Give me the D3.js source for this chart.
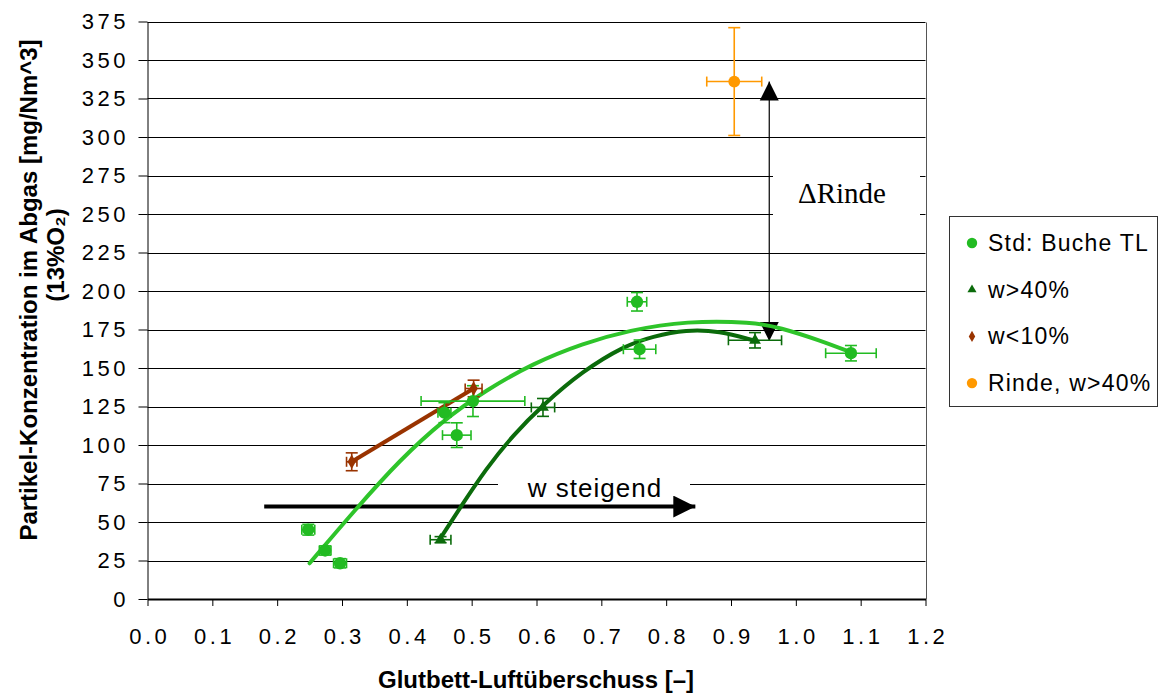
<!DOCTYPE html>
<html>
<head>
<meta charset="utf-8">
<script src="https://cdn.jsdelivr.net/npm/d3@7"></script>
<style>
  html, body { margin: 0; padding: 0; background: #fff; }
  svg { display: block; font-family: "Liberation Sans", Arial, sans-serif; }
</style>
</head>
<body>
<svg id="chart" width="1160" height="693"></svg>
<script>
// Measured series: x = Glutbett-Luftüberschuss, y = Partikel-Konzentration
const stdX   = [0.248, 0.274, 0.297, 0.458, 0.477, 0.502, 0.755, 0.759, 1.085];
const stdY   = [45, 31.5, 23.2, 121, 106.4, 128.5, 193, 162.2, 159.6];
const stdXe  = [0.010, 0.009, 0.010, 0.010, 0.022, 0.080, 0.015, 0.025, 0.039];
const stdYe  = [3.5, 3, 3, 6.5, 8, 10, 6, 6, 5];

const wetX   = [0.452, 0.610, 0.937];
const wetY   = [38.5, 124.4, 168];
const wetXe  = [0.016, 0.018, 0.041];
const wetYe  = [2, 5.8, 5];

const dryX   = [0.315, 0.503];
const dryY   = [89.1, 136.7];
const dryXe  = [0.008, 0.013];
const dryYe  = [5.8, 5.4];

const barkX  = [0.905];
const barkY  = [336];
const barkXe = [0.0424];
const barkYe = [35];

// Trend curves as drawn on the chart
const stdTrendX = [0.250, 0.322, 0.389, 0.456, 0.522, 0.594, 0.671, 0.743, 0.831, 0.934, 0.975, 1.037, 1.083];
const stdTrendY = [23.2, 58.8, 90.2, 116.1, 135.6, 152.9, 165.9, 174.5, 180.6, 179.9, 176.3, 168, 160.5];
const wetTrendX = [0.450, 0.481, 0.522, 0.564, 0.610, 0.671, 0.736, 0.779, 0.831, 0.882, 0.934];
const wetTrendY = [38.3, 58.5, 84.5, 106.5, 126, 148, 164.5, 170.5, 175, 174.1, 168];

// Axis ticks
const yTicks = d3.range(0, 376, 25);
const xTicks = d3.range(0, 13).map(i => i / 10);

// Legend entries
const legendNames = ["Std: Buche TL", "w>40%", "w<10%", "Rinde, w>40%"];

const colStd = "#22bb22", colStdLine = "#2ec42a", colWet = "#0b6b0b", colDry = "#993300", colBark = "#ff9900";

const svg = d3.select("#chart");
const x = d3.scaleLinear().domain([0, 1.2]).range([147.5, 925.5]);
const y = d3.scaleLinear().domain([0, 375]).range([599, 21.5]);

// Horizontal gridlines and right frame
svg.append("g").selectAll("line").data(yTicks.filter(v => v > 0)).join("line")
  .attr("x1", x(0)).attr("x2", x(1.2))
  .attr("y1", d => Math.round(y(d)) + 0.5).attr("y2", d => Math.round(y(d)) + 0.5)
  .attr("stroke", "#000").attr("stroke-width", 1);
svg.append("line")
  .attr("x1", Math.round(x(1.2)) + 0.5).attr("x2", Math.round(x(1.2)) + 0.5)
  .attr("y1", Math.round(y(375)) + 0.5).attr("y2", y(0))
  .attr("stroke", "#555").attr("stroke-width", 1);

// Axes
const yAxis = svg.append("g").attr("transform", `translate(${x(0)},0)`)
  .call(d3.axisLeft(y).tickValues(yTicks).tickSize(9).tickPadding(9.5).tickSizeOuter(0));
const xAxis = svg.append("g").attr("transform", `translate(0,${y(0)})`)
  .call(d3.axisBottom(x).tickValues(xTicks).tickFormat(d3.format(".1f")).tickSize(7).tickPadding(22).tickSizeOuter(0));
[yAxis, xAxis].forEach(g => {
  g.selectAll("text").attr("font-size", 22).attr("font-family", "Liberation Sans, Arial, sans-serif")
    .attr("fill", "#000").attr("letter-spacing", 3.5);
  g.selectAll("line").attr("stroke", "#000");
  g.select(".domain").attr("stroke", "#000");
});
xAxis.selectAll("text").attr("dx", 1.75);
xAxis.select(".domain").attr("stroke-width", 2);

// Axis titles
svg.append("text").attr("x", 536).attr("y", 688).attr("text-anchor", "middle")
  .attr("font-size", 24).attr("font-weight", "bold").text("Glutbett-Luftüberschuss [–]");
svg.append("text").attr("transform", "translate(37,290) rotate(-90)")
  .attr("text-anchor", "middle").attr("font-size", 24).attr("font-weight", "bold")
  .text("Partikel-Konzentration im Abgas [mg/Nm^3]");
svg.append("text").attr("transform", "translate(64,255) rotate(-90)")
  .attr("text-anchor", "middle").attr("font-size", 24).attr("font-weight", "bold")
  .text("(13%O₂)");

// Text boxes with white fill over gridlines
svg.append("rect").attr("x", 498).attr("y", 464).attr("width", 192).attr("height", 38).attr("fill", "#fff");
svg.append("text").attr("x", 595).attr("y", 497).attr("text-anchor", "middle")
  .attr("font-size", 26).attr("letter-spacing", 1).text("w steigend");
svg.append("rect").attr("x", 773).attr("y", 166).attr("width", 147).attr("height", 56).attr("fill", "#fff");
svg.append("text").attr("x", 842).attr("y", 203).attr("text-anchor", "middle")
  .attr("font-family", "Liberation Serif, Times New Roman, serif").attr("font-size", 29).text("ΔRinde");

// Arrow markers
const defs = svg.append("defs");
defs.append("marker").attr("id", "bigHead").attr("viewBox", "0 0 10 10")
  .attr("refX", 10).attr("refY", 5).attr("markerWidth", 25).attr("markerHeight", 22)
  .attr("markerUnits", "userSpaceOnUse").attr("orient", "auto")
  .append("path").attr("d", "M0,0 L10,5 L0,10 Z").attr("fill", "#000");
defs.append("marker").attr("id", "thinHead").attr("viewBox", "0 0 10 10")
  .attr("refX", 10).attr("refY", 5).attr("markerWidth", 19).attr("markerHeight", 20)
  .attr("markerUnits", "userSpaceOnUse").attr("orient", "auto-start-reverse")
  .append("path").attr("d", "M0,0 L10,5 L0,10 Z").attr("fill", "#000");

// "w steigend" arrow
svg.append("line").attr("x1", x(0.18)).attr("x2", x(0.845)).attr("y1", y(60)).attr("y2", y(60))
  .attr("stroke", "#000").attr("stroke-width", 4).attr("marker-end", "url(#bigHead)");

// Double arrow between bark point and wet peak
svg.append("line").attr("x1", x(0.959)).attr("x2", x(0.959)).attr("y1", y(336)).attr("y2", y(167.5))
  .attr("stroke", "#000").attr("stroke-width", 1.2)
  .attr("marker-start", "url(#thinHead)").attr("marker-end", "url(#thinHead)");

// Trend curves and connecting line
const smooth = d3.line().x(d => x(d[0])).y(d => y(d[1])).curve(d3.curveBasis);
svg.append("path").datum(d3.zip(stdTrendX, stdTrendY)).attr("d", smooth)
  .attr("fill", "none").attr("stroke", colStdLine).attr("stroke-width", 4).attr("stroke-linecap", "round");
svg.append("path").datum(d3.zip(wetTrendX, wetTrendY)).attr("d", smooth)
  .attr("fill", "none").attr("stroke", colWet).attr("stroke-width", 4).attr("stroke-linecap", "round");
svg.append("path").datum(d3.zip(dryX, dryY)).attr("d", d3.line().x(d => x(d[0])).y(d => y(d[1])))
  .attr("fill", "none").attr("stroke", colDry).attr("stroke-width", 4);

// Error bars
function errorBars(xs, ys, xe, ye, color) {
  const g = svg.append("g").attr("stroke", color).attr("stroke-width", 1.6).attr("fill", "none");
  xs.forEach((xv, i) => {
    const cx = x(xv), cy = y(ys[i]);
    const x0 = x(xv - xe[i]), x1 = x(xv + xe[i]);
    const y0 = y(ys[i] - ye[i]), y1 = y(ys[i] + ye[i]);
    g.append("line").attr("x1", x0).attr("x2", x1).attr("y1", cy).attr("y2", cy);
    g.append("line").attr("x1", x0).attr("x2", x0).attr("y1", cy - 5).attr("y2", cy + 5);
    g.append("line").attr("x1", x1).attr("x2", x1).attr("y1", cy - 5).attr("y2", cy + 5);
    g.append("line").attr("x1", cx).attr("x2", cx).attr("y1", y0).attr("y2", y1);
    g.append("line").attr("x1", cx - 6).attr("x2", cx + 6).attr("y1", y0).attr("y2", y0);
    g.append("line").attr("x1", cx - 6).attr("x2", cx + 6).attr("y1", y1).attr("y2", y1);
  });
}
errorBars(stdX, stdY, stdXe, stdYe, colStd);
errorBars(wetX, wetY, wetXe, wetYe, colWet);
errorBars(dryX, dryY, dryXe, dryYe, colDry);
errorBars(barkX, barkY, barkXe, barkYe, colBark);

// Point markers
const sym = (type, size) => d3.symbol().type(type).size(size)();
function markers(xs, ys, type, size, color) {
  svg.append("g").selectAll("path").data(d3.zip(xs, ys)).join("path")
    .attr("transform", d => `translate(${x(d[0])},${y(d[1])})`)
    .attr("d", sym(type, size)).attr("fill", color);
}
markers(stdX, stdY, d3.symbolCircle, 120, colStd);
markers(wetX, wetY, d3.symbolTriangle, 60, colWet);
markers(dryX, dryY, d3.symbolDiamond, 60, colDry);
markers(barkX, barkY, d3.symbolCircle, 110, colBark);

// Legend
const lg = svg.append("g");
lg.append("rect").attr("x", 949.5).attr("y", 216.5).attr("width", 208).attr("height", 190)
  .attr("fill", "#fff").attr("stroke", "#333").attr("stroke-width", 1);
const legendSyms = [[d3.symbolCircle, 85, colStd], [d3.symbolTriangle, 36, colWet], [d3.symbolDiamond, 36, colDry], [d3.symbolCircle, 85, colBark]];
legendNames.forEach((name, i) => {
  const cy = 243 + i * 46.7;
  lg.append("path").attr("transform", `translate(972,${cy})`)
    .attr("d", sym(legendSyms[i][0], legendSyms[i][1])).attr("fill", legendSyms[i][2]);
  lg.append("text").attr("x", 988).attr("y", cy + 8).attr("font-size", 23).attr("letter-spacing", 1.2).text(name);
});
</script>
</body>
</html>
